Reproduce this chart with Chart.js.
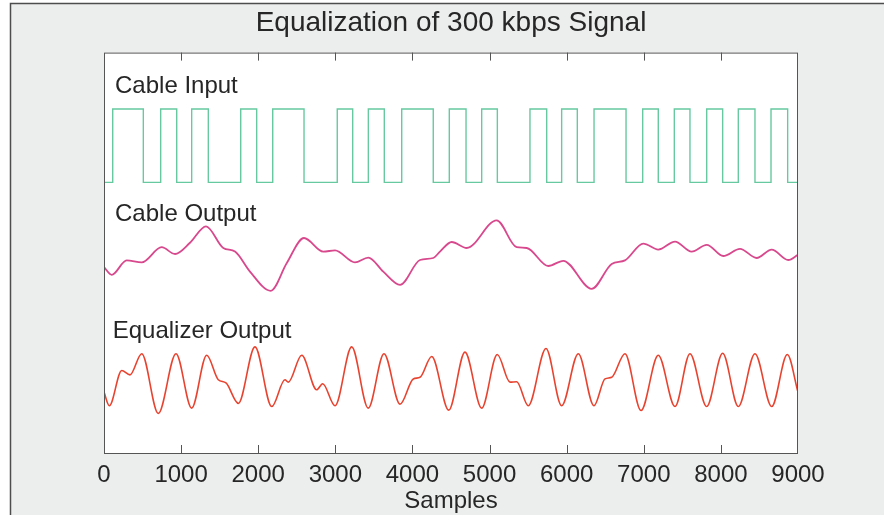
<!DOCTYPE html>
<html>
<head>
<meta charset="utf-8">
<script src="https://cdn.jsdelivr.net/npm/chart.js@4.4.1/dist/chart.umd.min.js"></script>
<style>
  html, body { margin: 0; padding: 0; background: #fff; }
</style>
</head>
<body>
<canvas id="eqChart" width="884" height="515"></canvas>
<script>
// x axis ticks (samples)
const sampleTicks = [0, 1000, 2000, 3000, 4000, 5000, 6000, 7000, 8000, 9000];

// cable input: sample index of each edge, first edge is a rise, then alternating
const inputEdges = [113, 510, 735, 943, 1137, 1353, 1773, 1980, 2188, 2594, 3025, 3225,
  3428, 3635, 3861, 4270, 4478, 4695, 4898, 5101, 5524, 5741, 5935, 6138, 6355, 6770,
  6986, 7188, 7396, 7599, 7816, 8023, 8226, 8442, 8650, 8866];
const inputLow = 67.6;
const inputHigh = 85.9;

// cable output (read at peaks, dips and shoulders)
const outputX = [0, 100, 294, 489, 748, 921, 1115, 1323, 1547, 1699, 1893, 2162, 2369, 2594,
  2844, 2996, 3255, 3427, 3622, 3839, 4098, 4270, 4357, 4509, 4704, 5092, 5352, 5482, 5762,
  5956, 6324, 6584, 6756, 6994, 7188, 7405, 7621, 7816, 8031, 8248, 8464, 8659, 8874, 9000];
const outputY = [46.4, 44.5, 48.1, 47.6, 51.4, 49.7, 52.5, 56.6, 51.2, 50.3, 45.3, 40.5, 47.4, 53.7,
  50.3, 50.6, 47.6, 48.8, 45.3, 42.0, 48.2, 48.7, 50.3, 52.7, 51.2, 58.1, 51.4, 51.2, 46.7,
  48.0, 41.0, 47.2, 48.1, 52.3, 50.8, 52.8, 50.3, 52.0, 49.2, 51.0, 48.7, 50.8, 48.2, 49.5];

// equalizer output
const eqX = [0, 69, 230, 337, 489, 704, 934, 1137, 1332, 1482, 1582, 1742, 1958, 2175, 2347, 2390,
  2564, 2758, 2836, 2996, 3212, 3427, 3631, 3839, 4011, 4098, 4250, 4471, 4681, 4898, 5100,
  5265, 5352, 5502, 5732, 5935, 6151, 6354, 6497, 6584, 6756, 6964, 7188, 7405, 7599, 7816,
  8023, 8226, 8442, 8659, 8861, 9000];
const eqY = [15.2, 11.8, 20.6, 19.5, 24.8, 9.9, 24.8, 11.2, 24.4, 18.3, 17.5, 12.4, 26.5, 11.6, 18.3, 17.7,
  24.4, 15.8, 17.3, 11.8, 26.5, 11.2, 24.8, 12.2, 18.5, 18.9, 24.1, 10.7, 25.2, 11.2, 24.6,
  17.7, 17.8, 11.8, 26.1, 11.8, 24.8, 11.8, 18.5, 18.9, 24.8, 10.6, 24.4, 11.6, 24.8, 11.6,
  24.9, 11.6, 24.8, 11.6, 24.6, 15.2];

const traceLabels = ['Cable Input', 'Cable Output', 'Equalizer Output'];

// build the step points for the square wave
const inputPoints = [{ x: 0, y: inputLow }];
inputEdges.forEach((s, i) => {
  inputPoints.push({ x: s, y: i % 2 === 0 ? inputHigh : inputLow });
});
inputPoints.push({ x: 9000, y: inputLow });

const outputPoints = outputX.map((x, i) => ({ x: x, y: outputY[i] }));
const eqPoints = eqX.map((x, i) => ({ x: x, y: eqY[i] }));

const FONT = '"Liberation Sans", Arial, Helvetica, sans-serif';

const framePlugin = {
  id: 'frame',
  beforeDraw(chart) {
    const c = chart.ctx;
    const a = chart.chartArea;
    c.save();
    c.fillStyle = '#ffffff';
    c.fillRect(0, 0, chart.width, chart.height);
    c.fillStyle = '#eceeed';
    c.fillRect(10, 3, chart.width - 10, chart.height - 3);
    c.strokeStyle = '#4d4d4d';
    c.lineWidth = 1.5;
    c.strokeRect(10.5, 3.5, chart.width + 10, chart.height + 10);
    c.fillStyle = '#ffffff';
    c.fillRect(a.left, a.top, a.right - a.left, a.bottom - a.top);
    c.restore();
  },
  afterDatasetsDraw(chart) {
    const c = chart.ctx;
    const a = chart.chartArea;
    const xs = chart.scales.x;
    const ys = chart.scales.y;
    c.save();
    c.strokeStyle = '#555555';
    c.lineWidth = 1;
    c.strokeRect(a.left + 0.5, a.top + 0.5, a.right - a.left - 1, a.bottom - a.top);
    c.beginPath();
    sampleTicks.slice(1, -1).forEach(t => {
      const px = Math.round(xs.getPixelForValue(t)) + 0.5;
      c.moveTo(px, a.bottom);
      c.lineTo(px, a.bottom - 8);
      c.moveTo(px, a.top);
      c.lineTo(px, a.top + 8);
    });
    c.stroke();
    // trace names
    c.fillStyle = '#262626';
    c.font = '24px ' + FONT;
    c.textBaseline = 'alphabetic';
    c.fillText(traceLabels[0], xs.getPixelForValue(143), ys.getPixelForValue(89.9));
    c.fillText(traceLabels[1], xs.getPixelForValue(143), ys.getPixelForValue(57.9));
    c.fillText(traceLabels[2], xs.getPixelForValue(113), ys.getPixelForValue(28.8));
    c.restore();
  }
};

new Chart(document.getElementById('eqChart'), {
  type: 'line',
  data: {
    datasets: [{
      label: traceLabels[0],
      data: inputPoints,
      stepped: 'before',
      borderColor: '#66c9a0',
      borderWidth: 1.4,
      pointRadius: 0
    }, {
      label: traceLabels[1],
      data: outputPoints,
      cubicInterpolationMode: 'monotone',
      borderColor: '#d8488d',
      borderWidth: 1.8,
      pointRadius: 0
    }, {
      label: traceLabels[2],
      data: eqPoints,
      cubicInterpolationMode: 'monotone',
      borderColor: '#e8432f',
      borderWidth: 1.6,
      pointRadius: 0
    }]
  },
  options: {
    responsive: false,
    devicePixelRatio: 1,
    animation: false,
    layout: { padding: { left: 104, right: 86, top: 0, bottom: 0 } },
    plugins: {
      legend: { display: false },
      tooltip: { enabled: false },
      title: {
        display: true,
        text: 'Equalization of 300 kbps Signal',
        color: '#262626',
        font: { family: FONT, size: 28, weight: 'normal', lineHeight: 1.2 },
        padding: { top: 6, bottom: 13 }
      }
    },
    scales: {
      x: {
        type: 'linear',
        min: 0,
        max: 9000,
        grid: { display: false, drawTicks: false },
        border: { display: false },
        ticks: {
          stepSize: 1000,
          padding: 10,
          maxRotation: 0,
          autoSkip: false,
          color: '#262626',
          font: { family: FONT, size: 24, lineHeight: 1 },
          callback: v => String(v)
        },
        title: {
          display: true,
          text: 'Samples',
          color: '#262626',
          font: { family: FONT, size: 24, lineHeight: 1 },
          padding: { top: -8, bottom: 2 }
        }
      },
      y: {
        display: false,
        min: 0,
        max: 100
      }
    }
  },
  plugins: [framePlugin]
});
</script>
</body>
</html>
